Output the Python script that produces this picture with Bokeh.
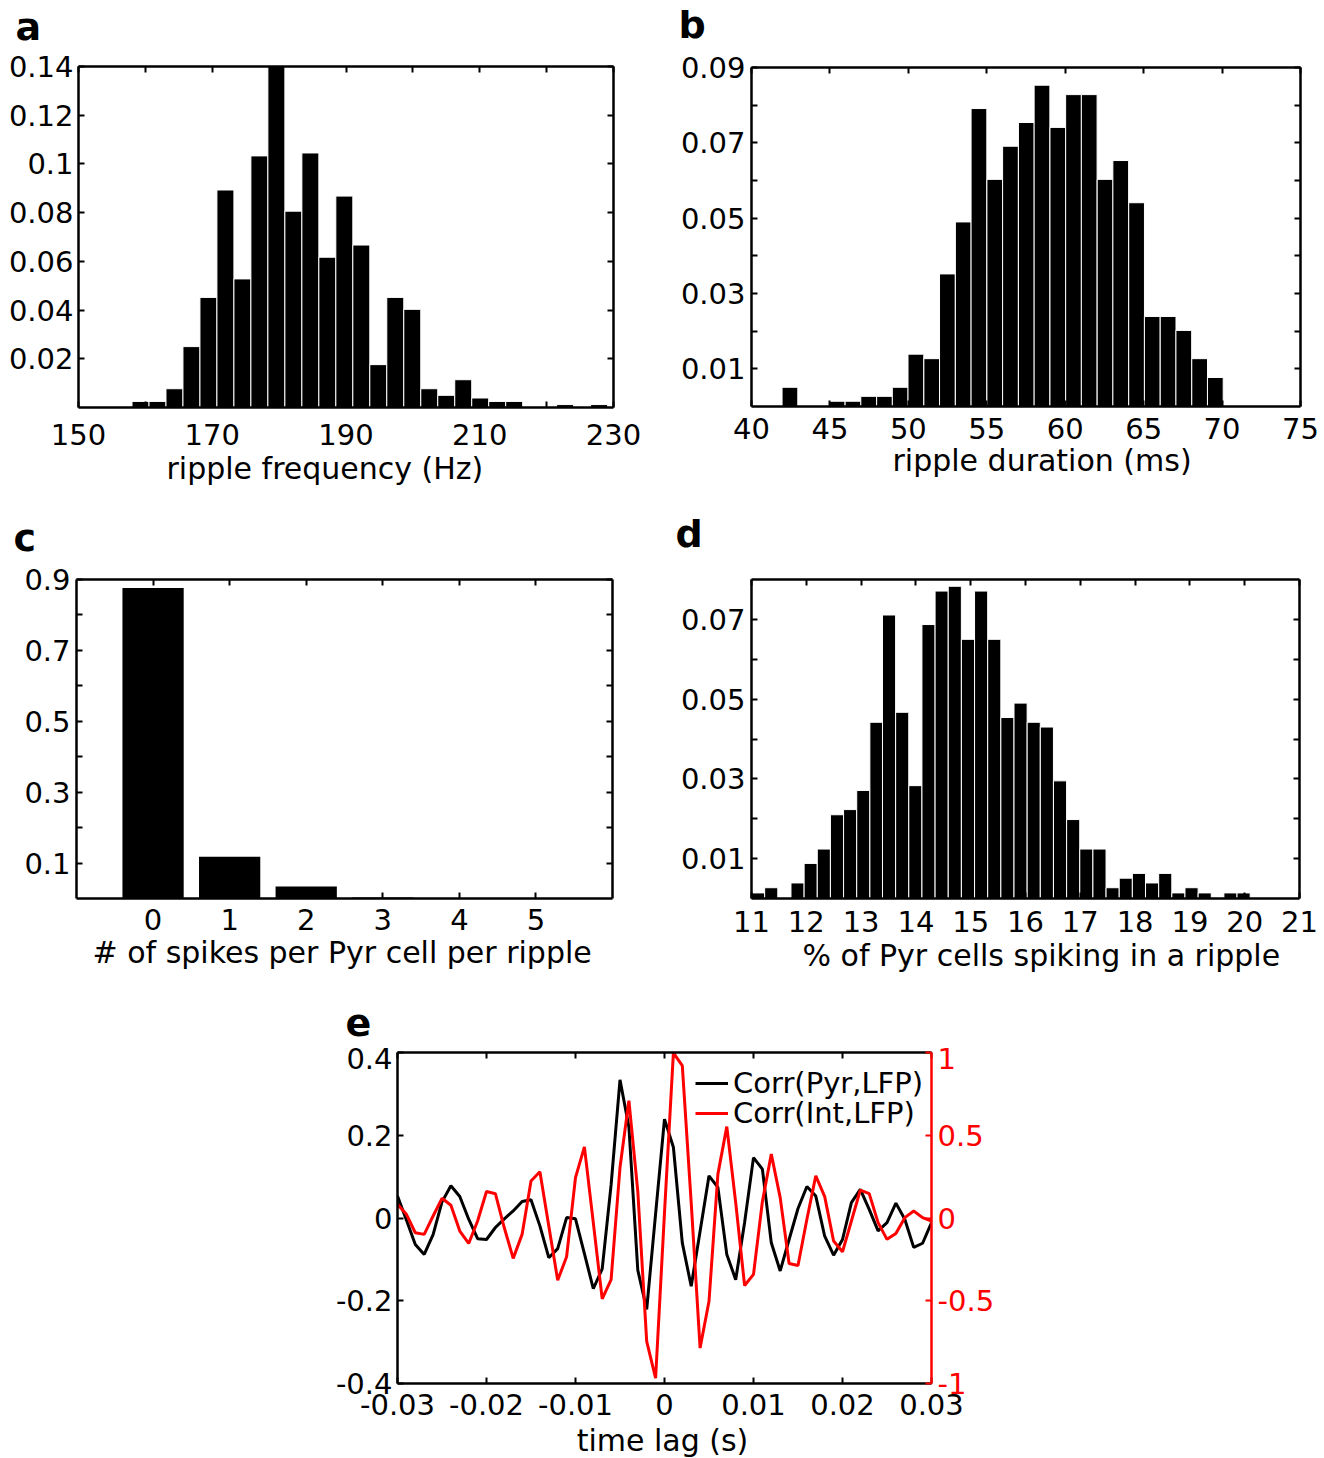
from bokeh.plotting import figure
from bokeh.models import (Range1d, LinearAxis, FixedTicker, CustomJSTickFormatter,
                          Legend, LegendItem, Spacer, Title)
from bokeh.layouts import row, column
from bokeh.embed import file_html
from bokeh.resources import INLINE
from bokeh.core.properties import value

FONT = "DejaVu Sans"
FS = "29px"
TITLE_FS = "30px"
LETTER_FS = "38px"

# ---------------- data ----------------
# panel a: ripple frequency histogram
freq_centers = [159.27, 161.81, 164.35, 166.89, 169.43, 171.97, 174.51, 177.05, 179.59,
                182.13, 184.67, 187.21, 189.75, 192.29, 194.83, 197.37, 199.91, 202.45,
                204.99, 207.53, 210.07, 212.61, 215.15, 217.69, 220.23, 222.77, 225.31, 227.85]
freq_vals = [0.0025, 0.0025, 0.0077, 0.0250, 0.0452, 0.0893, 0.0528, 0.1033, 0.1400,
             0.0806, 0.1045, 0.0617, 0.0868, 0.0667, 0.0176, 0.0452, 0.0403, 0.0077,
             0.0050, 0.0114, 0.0039, 0.0025, 0.0025, 0.0, 0.0, 0.0012, 0.0, 0.0012]
freq_binw = 2.54
freq_xticks = [150, 160, 170, 180, 190, 200, 210, 220, 230]
freq_xlabels = ["150", "", "170", "", "190", "", "210", "", "230"]
freq_yticks = [0.02, 0.04, 0.06, 0.08, 0.10, 0.12, 0.14]
freq_ylabels = ["0.02", "0.04", "0.06", "0.08", "0.1", "0.12", "0.14"]

# panel b: ripple duration histogram
dur_centers = [42.45, 43.45, 44.46, 45.46, 46.47, 47.47, 48.48, 49.48, 50.48, 51.49,
               52.49, 53.50, 54.50, 55.51, 56.51, 57.52, 58.52, 59.53, 60.53, 61.53,
               62.54, 63.54, 64.55, 65.55, 66.56, 67.56, 68.57, 69.57]
dur_vals = [0.0051, 0.0, 0.0, 0.0014, 0.0014, 0.0027, 0.0027, 0.0051, 0.0139, 0.0127,
            0.0352, 0.0490, 0.0791, 0.0603, 0.0691, 0.0754, 0.0853, 0.0741, 0.0828, 0.0828,
            0.0603, 0.0653, 0.0541, 0.0239, 0.0239, 0.0202, 0.0127, 0.0077]
dur_binw = 1.004
dur_xticks = [40, 45, 50, 55, 60, 65, 70, 75]
dur_xlabels = ["40", "45", "50", "55", "60", "65", "70", "75"]
dur_yticks = [0.01, 0.02, 0.03, 0.04, 0.05, 0.06, 0.07, 0.08, 0.09]
dur_ylabels = ["0.01", "", "0.03", "", "0.05", "", "0.07", "", "0.09"]

# panel c: spikes per Pyr cell per ripple
spk_counts = [0, 1, 2, 3, 4, 5]
spk_vals = [0.876, 0.118, 0.034, 0.003, 0.0, 0.0]
spk_xlabels = ["0", "1", "2", "3", "4", "5"]
spk_yticks = [0.1, 0.2, 0.3, 0.4, 0.5, 0.6, 0.7, 0.8, 0.9]
spk_ylabels = ["0.1", "", "0.3", "", "0.5", "", "0.7", "", "0.9"]

# panel d: % of Pyr cells spiking in a ripple
pct_centers = [11.12, 11.36, 11.60, 11.84, 12.08, 12.32, 12.56, 12.80, 13.04, 13.28,
               13.51, 13.75, 13.99, 14.23, 14.47, 14.71, 14.95, 15.19, 15.43, 15.67,
               15.91, 16.15, 16.39, 16.63, 16.87, 17.11, 17.35, 17.59, 17.83, 18.07,
               18.31, 18.55, 18.79, 19.03, 19.27, 19.50, 19.74, 19.98]
pct_vals = [0.0014, 0.0027, 0.0, 0.0039, 0.0088, 0.0124, 0.0210, 0.0223, 0.0271, 0.0442,
            0.0711, 0.0467, 0.0283, 0.0687, 0.0771, 0.0783, 0.0650, 0.0771, 0.0650, 0.0454,
            0.0490, 0.0442, 0.0430, 0.0295, 0.0198, 0.0124, 0.0124, 0.0027, 0.0051, 0.0063,
            0.0039, 0.0063, 0.0014, 0.0027, 0.0014, 0.0, 0.0014, 0.0014]
pct_binw = 0.2395
pct_xticks = [11, 12, 13, 14, 15, 16, 17, 18, 19, 20, 21]
pct_xlabels = [str(v) for v in pct_xticks]
pct_yticks = [0.01, 0.02, 0.03, 0.04, 0.05, 0.06, 0.07]
pct_ylabels = ["0.01", "", "0.03", "", "0.05", "", "0.07"]

# panel e: cross-correlations
lag_s = [i / 1000 for i in range(-30, 31)]
corr_pyr = [0.053, -0.005, -0.064, -0.088, -0.040, 0.039, 0.078, 0.052, -0.003, -0.050,
            -0.052, -0.023, -0.002, 0.017, 0.040, 0.044, -0.019, -0.096, -0.074, 0.001,
            -0.002, -0.086, -0.171, -0.123, 0.080, 0.334, 0.220, -0.126, -0.221, 0.010,
            0.239, 0.171, -0.060, -0.165, -0.032, 0.102, 0.074, -0.088, -0.149, -0.011,
            0.146, 0.118, -0.060, -0.128, -0.052, 0.023, 0.076, 0.053, -0.044, -0.090,
            -0.052, 0.037, 0.069, 0.021, -0.031, -0.011, 0.036, -0.003, -0.071, -0.061,
            -0.011]
corr_int = [0.083, 0.022, -0.089, -0.099, 0.012, 0.119, 0.077, -0.079, -0.154, -0.018,
            0.160, 0.147, -0.059, -0.244, -0.099, 0.224, 0.279, -0.048, -0.376, -0.234,
            0.244, 0.430, -0.028, -0.489, -0.372, 0.305, 0.709, 0.160, -0.745, -0.968,
            0.032, 0.998, 0.921, 0.093, -0.786, -0.503, 0.265, 0.552, 0.093, -0.408,
            -0.341, 0.100, 0.386, 0.123, -0.275, -0.287, -0.008, 0.255, 0.129, -0.139,
            -0.204, -0.018, 0.168, 0.147, -0.028, -0.129, -0.093, 0.002, 0.042, 0.002,
            -0.018]
lag_ticks = [-0.03, -0.02, -0.01, 0.0, 0.01, 0.02, 0.03]
lag_labels = ["-0.03", "-0.02", "-0.01", "0", "0.01", "0.02", "0.03"]
pyr_ticks = [-0.4, -0.2, 0.0, 0.2, 0.4]
pyr_labels = ["-0.4", "-0.2", "0", "0.2", "0.4"]
int_ticks = [-1.0, -0.5, 0.0, 0.5, 1.0]
int_labels = ["-1", "-0.5", "0", "0.5", "1"]

# ---------------- helpers ----------------
FMT_CODE = """
let b = 0, bd = Infinity;
for (let i = 0; i < t.length; i++) { const d = Math.abs(t[i] - tick); if (d < bd) { bd = d; b = i; } }
return l[b];
"""


def style_axis(ax, ticks, labels, color="black", standoff=6, hidden=False):
    ax.ticker = FixedTicker(ticks=ticks)
    if hidden:
        ax.formatter = CustomJSTickFormatter(code="return '';")
        ax.major_label_text_font_size = "1px"
        ax.major_label_standoff = 0
    else:
        ax.formatter = CustomJSTickFormatter(args=dict(t=ticks, l=labels), code=FMT_CODE)
        ax.major_label_text_font_size = FS
        ax.major_label_standoff = standoff
    ax.major_label_text_font = FONT
    ax.major_label_text_color = color
    ax.major_tick_in = 6
    ax.major_tick_out = 0
    ax.major_tick_line_width = 2
    ax.major_tick_line_color = color
    ax.minor_tick_line_color = None
    ax.axis_line_width = 2.5
    ax.axis_line_color = color


def make_fig(width, height, bl, br, bt, bb, xr, yr):
    p = figure(width=width, height=height, min_border_left=bl, min_border_right=br,
               min_border_top=bt, min_border_bottom=bb, x_range=Range1d(*xr),
               y_range=Range1d(*yr), toolbar_location=None, output_backend="svg", tools="",
               frame_align=False)
    p.outline_line_color = None
    p.grid.visible = False
    p.background_fill_color = "white"
    p.border_fill_color = "white"
    return p


def add_box_axes(p, xticks, yticks, right=True):
    top = LinearAxis()
    p.add_layout(top, "above")
    style_axis(top, xticks, None, hidden=True)
    if right:
        r = LinearAxis()
        p.add_layout(r, "right")
        style_axis(r, yticks, None, hidden=True)


def axis_title(p, text, offset, standoff):
    p.add_layout(Title(text=text, align="left", offset=offset, standoff=standoff,
                       vertical_align="top", text_font=FONT, text_font_size=TITLE_FS,
                       text_font_style="normal", text_color="black"), "below")


# vertical shift from the text box centre to the alphabetic baseline (fraction of size)
MID = 0.34


def text_strip(width, height, x, y_base, txt, kind):
    """A blank strip that carries one panel letter or title (pixel position inside it)."""
    s = figure(width=width, height=height, x_range=Range1d(0, width),
               y_range=Range1d(height, 0), x_axis_type=None, y_axis_type=None,
               min_border=0, toolbar_location=None, output_backend="svg", tools="",
               frame_align=False)
    s.outline_line_color = None
    s.background_fill_color = "white"
    s.border_fill_color = "white"
    if kind == "letter":
        s.text(x=[x], y=[y_base - MID * 38], text=[txt], text_font=value(FONT),
               text_font_size=value(LETTER_FS), text_font_style="bold",
               text_align="left", text_baseline="middle", text_color="black")
    else:
        s.text(x=[x], y=[y_base - MID * 30], text=[txt], text_font=value(FONT),
               text_font_size=value(TITLE_FS), text_font_style="normal",
               text_align="center", text_baseline="middle", text_color="black")
    return s


# ---------------- panel a ----------------
pa = make_fig(675, 456, 78, 62, 17, 98, (150, 230), (0, 0.14))
pa.vbar(x=freq_centers, top=freq_vals, width=freq_binw, bottom=0,
        fill_color="black", line_color="white", line_width=1)
style_axis(pa.xaxis[0], freq_xticks, freq_xlabels, standoff=16)
style_axis(pa.yaxis[0], freq_yticks, freq_ylabels, standoff=5)
add_box_axes(pa, freq_xticks, freq_yticks)
axis_title(pa, "ripple frequency (Hz)", 88, 7)

# ---------------- panel b ----------------
pb = make_fig(647, 445, 76, 22, 17, 89, (40, 75), (0, 0.09))
pb.vbar(x=dur_centers, top=dur_vals, width=dur_binw, bottom=0,
        fill_color="black", line_color="white", line_width=1)
style_axis(pb.xaxis[0], dur_xticks, dur_xlabels, standoff=11)
style_axis(pb.yaxis[0], dur_yticks, dur_ylabels, standoff=6)
add_box_axes(pb, dur_xticks, dur_yticks)
axis_title(pb, "ripple duration (ms)", 141, 3)

# ---------------- panel c ----------------
pc = make_fig(675, 430, 76, 63, 17, 94, (-1, 6), (0, 0.9))
pc.vbar(x=spk_counts, top=spk_vals, width=0.8, bottom=0,
        fill_color="black", line_color=None)
style_axis(pc.xaxis[0], spk_counts, spk_xlabels, standoff=10)
style_axis(pc.yaxis[0], spk_yticks, spk_ylabels, standoff=6)
add_box_axes(pc, spk_counts, spk_yticks)
axis_title(pc, "# of spikes per Pyr cell per ripple", 16, 5)

# ---------------- panel d ----------------
pd_ = make_fig(647, 430, 76, 23, 17, 94, (11, 21), (0, 0.08))
pd_.vbar(x=pct_centers, top=pct_vals, width=pct_binw, bottom=0,
         fill_color="black", line_color="white", line_width=1)
style_axis(pd_.xaxis[0], pct_xticks, pct_xlabels, standoff=12)
style_axis(pd_.yaxis[0], pct_yticks, pct_ylabels, standoff=6)
add_box_axes(pd_, pct_xticks, pct_yticks)
axis_title(pd_, "% of Pyr cells spiking in a ripple", 51, 7)

# ---------------- panel e ----------------
pe = make_fig(694, 380, 80, 80, 5, 44, (-0.03, 0.03), (-0.4, 0.4))
pe.extra_y_ranges = {"int": Range1d(-1, 1)}
rb = pe.line(lag_s, corr_pyr, line_color="black", line_width=3)
rr = pe.line(lag_s, corr_int, line_color="#ff0000", line_width=3, y_range_name="int")
style_axis(pe.xaxis[0], lag_ticks, lag_labels, standoff=10)
style_axis(pe.yaxis[0], pyr_ticks, pyr_labels, standoff=5)
add_box_axes(pe, lag_ticks, None, right=False)
ax_r = LinearAxis(y_range_name="int")
pe.add_layout(ax_r, "right")
style_axis(ax_r, int_ticks, int_labels, color="#ff0000", standoff=6)


def one_legend(label, renderer, y):
    lg = Legend(items=[LegendItem(label=label, renderers=[renderer])], location=(298, y))
    lg.label_text_font = FONT
    lg.label_text_font_size = FS
    lg.label_text_color = "black"
    lg.glyph_width = 33
    lg.glyph_height = 28
    lg.label_height = 28
    lg.label_standoff = 5
    lg.padding = 0
    lg.margin = 0
    lg.border_line_color = None
    lg.background_fill_alpha = 0
    pe.add_layout(lg)


one_legend("Corr(Pyr,LFP)", rb, 283)
one_legend("Corr(Int,LFP)", rr, 253)

# ---------------- panel letters and the last axis title ----------------
sA0 = text_strip(675, 49, 15, 39, "a", "letter")
sA1 = text_strip(675, 57, 13, 45, "c", "letter")
sB0 = text_strip(647, 50, 3, 37, "b", "letter")
sB1 = text_strip(647, 67, 0, 51, "d", "letter")
sE0 = text_strip(694, 55, 28, 43, "e", "letter")
sE1 = text_strip(694, 31, 345, 23, "time lag (s)", "title")

colA = column(sA0, pa, sA1, pc)
colB = column(sB0, pb, sB1, pd_)
colE = column(sE0, pe, sE1)
layout = column(row(colA, colB), row(Spacer(width=317, height=466), colE))

open("out.html", "w").write(file_html(layout, INLINE))
